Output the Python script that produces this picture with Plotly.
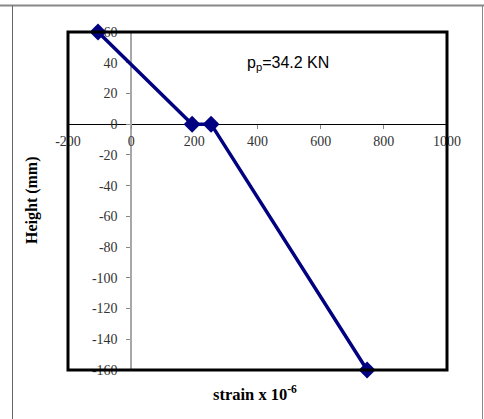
import plotly.graph_objects as go

# Data
strain = [-105, 193, 253, 747]
height = [60, 0, 0, -160]

x_range = [-200, 1000]
y_range = [-160, 60]
x_ticks = [-200, 0, 200, 400, 600, 800, 1000]
y_ticks = [60, 40, 20, 0, -20, -40, -60, -80, -100, -120, -140, -160]

annotation_text = "p<sub>p</sub>=34.2 KN"
x_title = "strain x 10<sup>-6</sup>"
y_title = "Height (mm)"

W, H = 484, 419
L, R, T, B = 68, 37, 32, 49
pw, ph = W - L - R, H - T - B

def px(x):
    return (x - L) / pw

def py(y):
    return (H - B - y) / ph

# zero-crossing positions of axes (paper coordinates)
yaxis_pos = (0 - x_range[0]) / (x_range[1] - x_range[0])
xaxis_pos = (0 - y_range[0]) / (y_range[1] - y_range[0])

serif = "Liberation Serif, Times New Roman, serif"
sans = "Liberation Sans, Arial, sans-serif"

fig = go.Figure()
fig.add_trace(go.Scatter(
    x=strain, y=height, mode="lines+markers",
    line=dict(color="#000080", width=3.5),
    marker=dict(symbol="diamond", size=13, color="#000080"),
    cliponaxis=False, showlegend=False, hoverinfo="skip",
))

fig.update_layout(
    width=W, height=H,
    margin=dict(l=L, r=R, t=T, b=B, pad=0),
    paper_bgcolor="white", plot_bgcolor="white",
    xaxis=dict(
        range=x_range, tickvals=x_ticks, ticktext=[str(v) for v in x_ticks],
        anchor="free", position=xaxis_pos,
        showgrid=False, zeroline=False,
        showline=True, linecolor="#000000", linewidth=1,
        ticks="outside", ticklen=4, tickcolor="#888888", tickwidth=1,
        tickfont=dict(family=serif, size=14, color="#333333"),
        layer="below traces", fixedrange=True,
    ),
    yaxis=dict(
        range=y_range, tickvals=y_ticks, ticktext=[str(v) for v in y_ticks],
        anchor="free", position=yaxis_pos,
        showgrid=False, zeroline=False,
        showline=True, linecolor="#a8a8a8", linewidth=1.5,
        ticks="outside", ticklen=4, tickcolor="#888888", tickwidth=1,
        ticklabelstandoff=6,
        tickfont=dict(family=serif, size=14, color="#333333"),
        layer="below traces", fixedrange=True,
    ),
    shapes=[
        dict(type="rect", xref="paper", yref="paper", x0=0, x1=1, y0=0, y1=1,
             line=dict(color="#000000", width=3), layer="above"),
        dict(type="line", xref="paper", yref="paper", x0=px(0), x1=px(W), y0=py(5.5), y1=py(5.5),
             line=dict(color="#888888", width=2)),
        dict(type="line", xref="paper", yref="paper", x0=px(12.5), x1=px(12.5), y0=py(5.5), y1=py(H),
             line=dict(color="#666666", width=1)),
        dict(type="line", xref="paper", yref="paper", x0=px(482.5), x1=px(482.5), y0=py(5.5), y1=py(H),
             line=dict(color="#888888", width=1)),
    ],
    annotations=[
        dict(text=annotation_text, xref="paper", yref="paper", x=px(288), y=py(63),
             xanchor="center", yanchor="middle",
             showarrow=False, font=dict(family=sans, size=16, color="#000000")),
        dict(text=f"<b>{x_title}</b>", xref="paper", yref="paper", x=px(255), y=py(393),
             xanchor="center", yanchor="middle",
             showarrow=False, font=dict(family=serif, size=16.5, color="#000000")),
        dict(text=f"<b>{y_title}</b>", xref="paper", yref="paper", x=px(32), y=py(200),
             xanchor="center", yanchor="middle",
             textangle=-90, showarrow=False, font=dict(family=serif, size=16, color="#000000")),
    ],
)

fig.write_html("out.html", config={"displayModeBar": False},
               post_script="document.body.style.margin='0';")
